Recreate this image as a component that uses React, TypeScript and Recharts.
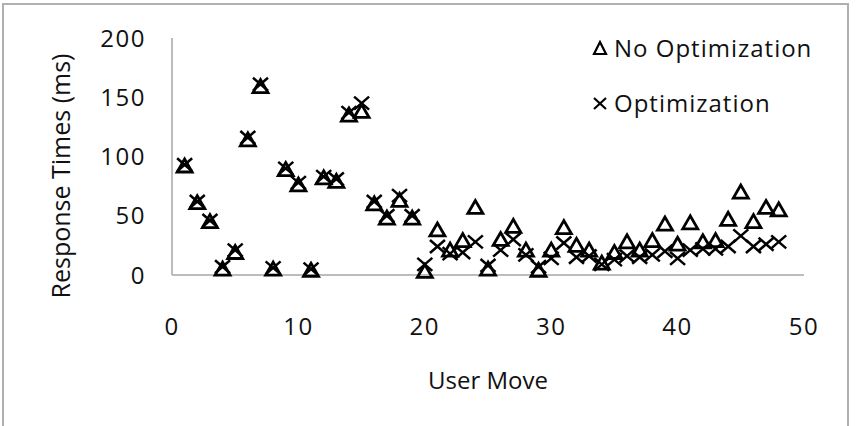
import React from 'react';
import { ScatterChart, Scatter, XAxis, YAxis } from 'recharts';

const userMoves = [
  1, 2, 3, 4, 5, 6, 7, 8, 9, 10, 11, 12, 13, 14, 15, 16, 17, 18, 19, 20, 21, 22, 23, 24,
  25, 26, 27, 28, 29, 30, 31, 32, 33, 34, 35, 36, 37, 38, 39, 40, 41, 42, 43, 44, 45, 46, 47, 48,
];

const noOptimization = [
  92, 61, 45, 5, 19, 114, 159, 5, 89, 76, 4, 82, 79, 135, 138, 60, 48, 63, 48, 3, 38, 21, 29, 57,
  5, 30, 41, 21, 4, 21, 40, 25, 21, 10, 19, 28, 21, 29, 43, 26, 44, 28, 29, 47, 70, 45, 57, 55,
];

const optimization = [
  93, 62, 46, 7, 21, 116, 161, 6, 90, 78, 5, 83, 81, 137, 145, 62, 50, 67, 50, 9, 24, 18, 19, 28,
  8, 21, 30, 17, 7, 14, 27, 15, 16, 9, 13, 16, 15, 17, 20, 14, 21, 22, 22, 24, 33, 24, 26, 28,
];

const xTicks = [0, 10, 20, 30, 40, 50];
const yTicks = [0, 50, 100, 150, 200];

const noOptData = userMoves.map((x, i) => ({ x, y: noOptimization[i] }));
const optData = userMoves.map((x, i) => ({ x, y: optimization[i] }));

const FONT = '"Open Sans", sans-serif';
const AXIS = '#a6a6a6';
const TEXT = '#111';

const Triangle = ({ cx, cy }: any) => {
  if (cx == null || cy == null) return null;
  const w = 7.5;
  return (
    <polygon
      points={`${cx},${cy - 7} ${cx - w},${cy + 6} ${cx + w},${cy + 6}`}
      fill="none"
      stroke="#000"
      strokeWidth={2.8}
    />
  );
};

const Cross = ({ cx, cy }: any) => {
  if (cx == null || cy == null) return null;
  const d = 7.5;
  return (
    <g stroke="#000" strokeWidth={2.5}>
      <line x1={cx - d} y1={cy - d + 1} x2={cx + d} y2={cy + d - 1} />
      <line x1={cx - d} y1={cy + d - 1} x2={cx + d} y2={cy - d + 1} />
    </g>
  );
};

// legend drawn as an overlay so it does not shrink the plot
const LegendBox = () => (
  <div
    style={{
      position: 'absolute',
      left: 592,
      top: 34,
      fontFamily: FONT,
      fontSize: 24,
      letterSpacing: 1,
      color: TEXT,
      lineHeight: '28px',
      whiteSpace: 'nowrap',
    }}
  >
    <div style={{ display: 'flex', alignItems: 'center', height: 28 }}>
      <svg width={16} height={16} style={{ marginRight: 6 }}>
        <polygon points="8,2 2,14 14,14" fill="none" stroke="#000" strokeWidth={2.2} />
      </svg>
      No Optimization
    </div>
    <div style={{ display: 'flex', alignItems: 'center', height: 28, marginTop: 27 }}>
      <svg width={16} height={16} style={{ marginRight: 6 }}>
        <g stroke="#000" strokeWidth={2.2}>
          <line x1={2} y1={3} x2={14} y2={14} />
          <line x1={2} y1={14} x2={14} y2={3} />
        </g>
      </svg>
      Optimization
    </div>
  </div>
);

const YLabel = () => (
  <text
    x={60}
    y={176}
    transform="rotate(-90 60 176)"
    textAnchor="middle"
    dominantBaseline="central"
    fontFamily={FONT}
    fontSize={25}
    fill={TEXT}
  >
    Response Times (ms)
  </text>
);

const tickStyle = { fontFamily: FONT, fontSize: 24, fill: TEXT, letterSpacing: 1.5 };

export default function App() {
  return (
    <div style={{ position: 'absolute', left: 0, top: 0, width: 856, height: 426, background: '#fff' }}>
      <div
        style={{
          position: 'absolute',
          left: 2,
          top: 3,
          width: 847,
          height: 430,
          border: '2px solid #b0b0b0',
          boxSizing: 'border-box',
        }}
      />
      <ScatterChart width={856} height={426} margin={{ top: 38, right: 52, bottom: 91, left: 0 }}>
        <XAxis
          type="number"
          dataKey="x"
          domain={[0, 50]}
          ticks={xTicks}
          height={60}
          tickLine={false}
          tickSize={0}
          tickMargin={43}
          axisLine={{ stroke: AXIS, strokeWidth: 1.5 }}
          tick={tickStyle}
          label={{ value: 'User Move', position: 'bottom', offset: 37, fontFamily: FONT, fontSize: 24, fill: TEXT }}
        />
        <YAxis
          type="number"
          dataKey="y"
          domain={[0, 200]}
          ticks={yTicks}
          width={172}
          tickLine={false}
          tickSize={0}
          tickMargin={26}
          axisLine={{ stroke: AXIS, strokeWidth: 1.5 }}
          tick={tickStyle}
          label={{ content: () => <YLabel /> }}
        />
        <Scatter name="No Optimization" data={noOptData} shape={<Triangle />} isAnimationActive={false} />
        <Scatter name="Optimization" data={optData} shape={<Cross />} isAnimationActive={false} />
      </ScatterChart>
      <LegendBox />
    </div>
  );
}
